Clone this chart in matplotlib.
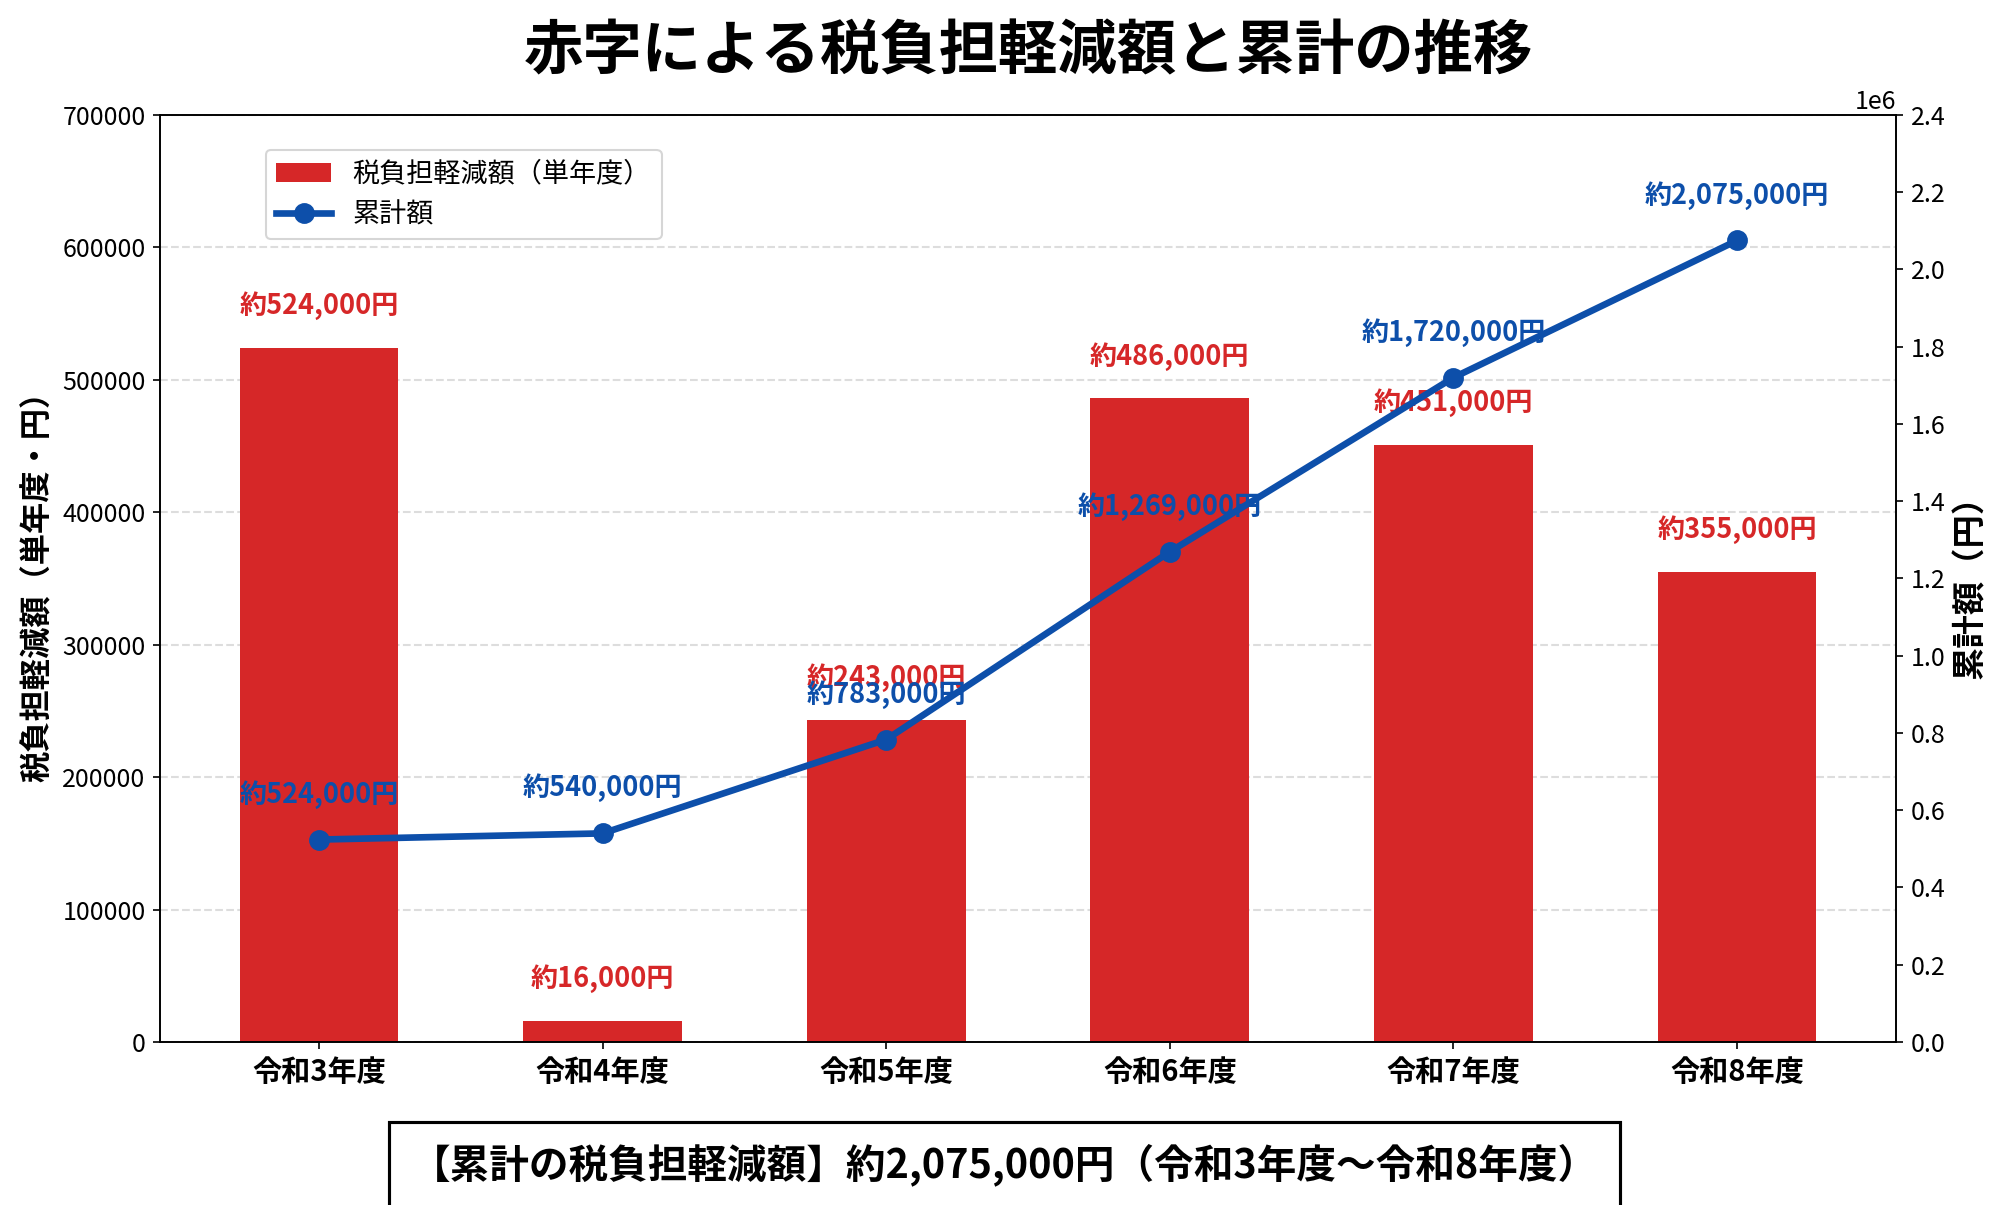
import numpy as np
import matplotlib
matplotlib.use("Agg")
import matplotlib.pyplot as plt

plt.rcParams['font.family'] = ['Noto Sans CJK JP', 'DejaVu Sans']

# data
years = ["令和3年度", "令和4年度", "令和5年度", "令和6年度", "令和7年度", "令和8年度"]
reduction = [524000, 16000, 243000, 486000, 451000, 355000]
cumulative = [524000, 540000, 783000, 1269000, 1720000, 2075000]
total_text = "【累計の税負担軽減額】約2,075,000円（令和3年度〜令和8年度）"

bar_color = "#d62728"
line_color = "#0d4faa"

fig = plt.figure(figsize=(2009 / 150, 1205 / 150), dpi=150)
ax1 = fig.add_axes([0.0797, 0.1353, 0.864, 0.7693])
ax2 = ax1.twinx()

x = np.arange(len(years))
bars = ax1.bar(x, reduction, width=0.56, color=bar_color, label="税負担軽減額（単年度）", zorder=2)
line, = ax2.plot(x, cumulative, color=line_color, linewidth=3.2, marker="o", markersize=9,
                 label="累計額", zorder=3)

ax1.set_ylim(0, 700000)
ax2.set_ylim(0, 2400000)
ax2.set_yticks(np.arange(0, 2400001, 200000))
ax1.set_xlim(-0.56, 5.56)
ax1.set_xticks(x)
ax1.set_xticklabels(years, fontsize=14, fontweight="bold")
ax1.tick_params(axis="y", labelsize=12)
ax2.tick_params(axis="y", labelsize=12)
ax2.yaxis.get_offset_text().set_fontsize(12)
ax1.grid(axis="y", linestyle="--", color="#dddddd", linewidth=1, zorder=0)
ax1.set_axisbelow(True)

ax1.set_ylabel("税負担軽減額（単年度・円）", fontsize=15, fontweight="bold")
ax2.set_ylabel("累計額（円）", fontsize=16, fontweight="bold")

# labels on bars
for xi, v in zip(x, reduction):
    ax1.text(xi, v + 21000, "約{:,}円".format(v), ha="center", va="bottom",
             color=bar_color, fontsize=13, fontweight="bold")

# labels on line
for xi, v in zip(x, cumulative):
    ax2.text(xi, v + 80000, "約{:,}円".format(v), ha="center", va="bottom",
             color=line_color, fontsize=13, fontweight="bold")

ax1.legend([bars, line], ["税負担軽減額（単年度）", "累計額"], loc="upper left",
           bbox_to_anchor=(0.053, 0.977), fontsize=13)

ax1.set_title("赤字による税負担軽減額と累計の推移", fontsize=28.5, fontweight="bold", pad=22)

fig.text(0.5, 0.033, total_text, ha="center", va="center", fontsize=19, fontweight="bold",
         bbox=dict(boxstyle="square,pad=0.55", facecolor="white", edgecolor="black", linewidth=1.5))

fig.savefig("out.png", dpi=150)
